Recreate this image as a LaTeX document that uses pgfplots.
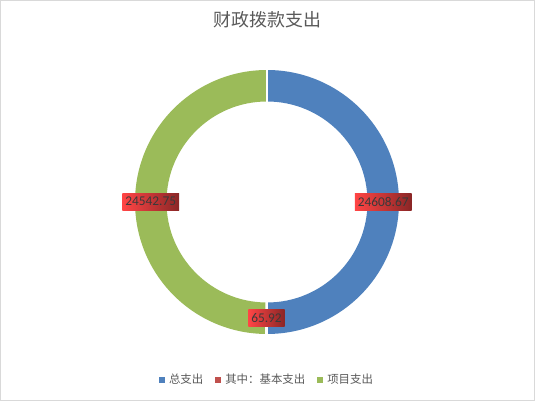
\documentclass[border=0pt]{standalone}
\usepackage{pgfplots}
\pgfplotsset{compat=1.18}
\usepackage{pgfplotstable}
\usepackage{fontspec}
\setmainfont{Carlito}
\newfontfamily\cjk{Noto Sans CJK SC}
\definecolor{cblue}{HTML}{4F81BD}
\definecolor{cred}{HTML}{C0504D}
\definecolor{cgreen}{HTML}{9BBB59}
\definecolor{ctext}{HTML}{595959}
\definecolor{labtext}{HTML}{3A3A3A}
\definecolor{labL}{HTML}{FF4545}
\definecolor{labR}{HTML}{8A2626}
\definecolor{cborder}{HTML}{D9D9D9}
\pgfplotstableread{
idx value
0 24608.67
1 65.92
2 24542.75
}\donutdata
\begin{document}
\pgfplotstablegetelem{0}{value}\of\donutdata \edef\va{\pgfplotsretval}%
\pgfplotstablegetelem{1}{value}\of\donutdata \edef\vb{\pgfplotsretval}%
\pgfplotstablegetelem{2}{value}\of\donutdata \edef\vc{\pgfplotsretval}%
\edef\tot{\fpeval{\va+\vb+\vc}}%
\edef\aA{\fpeval{90-360*\va/\tot}}%
\edef\aB{\fpeval{\aA-360*\vb/\tot}}%
\edef\aC{-270}%
\edef\mA{\fpeval{(90+\aA)/2}}%
\edef\mB{\fpeval{(\aA+\aB)/2}}%
\edef\mC{\fpeval{(\aB+\aC)/2}}%
\def\Ro{2.64cm}\def\Ri{2.01cm}\def\Rm{2.325cm}%
\begin{tikzpicture}
\begin{axis}[
  scale only axis, width=10.7cm, height=8.02cm,
  xmin=0, xmax=535, ymin=0, ymax=401,
  hide axis, clip=false,
  legend style={at={(0.5,0.0524)}, anchor=center, draw=none, fill=none,
    legend columns=-1, inner sep=0pt,
    font=\cjk\fontsize{6.5}{8}\selectfont\color{ctext},
    /tikz/every even column/.append style={column sep=0.16cm},
    /tikz/every odd column/.append style={column sep=0.02cm}},
  legend image code/.code={\fill[#1] (0cm,-0.06cm) rectangle (0.12cm,0.06cm);},
]
\path (axis cs:0,0) rectangle (axis cs:535,401);
\draw[cborder, line width=0.02cm] (axis cs:0.5,0.5) rectangle (axis cs:534.5,400.5);
\node[text=ctext, font=\cjk\fontsize{10.2}{12}\selectfont] at (axis cs:267.5,381) {财政拨款支出};
\coordinate (C) at (axis cs:267,199);
\addlegendimage{fill=cblue, draw=none}
\addlegendentry{总支出}
\addlegendimage{fill=cred, draw=none}
\addlegendentry{其中：基本支出}
\addlegendimage{fill=cgreen, draw=none}
\addlegendentry{项目支出}
\end{axis}
\begin{scope}[shift={(C)}]
\fill[cblue] (90:\Ro) arc[start angle=90, end angle=\aA, radius=\Ro] -- (\aA:\Ri) arc[start angle=\aA, end angle=90, radius=\Ri] -- cycle;
\fill[cred] (\aA:\Ro) arc[start angle=\aA, end angle=\aB, radius=\Ro] -- (\aB:\Ri) arc[start angle=\aB, end angle=\aA, radius=\Ri] -- cycle;
\fill[cgreen] (\aB:\Ro) arc[start angle=\aB, end angle=\aC, radius=\Ro] -- (\aC:\Ri) arc[start angle=\aC, end angle=\aB, radius=\Ri] -- cycle;
\draw[white, line width=0.03cm] (90:1.99cm) -- (90:2.66cm);
\draw[white, line width=0.03cm] (\aA:1.99cm) -- (\aA:2.66cm);
\draw[white, line width=0.03cm] (\aB:1.99cm) -- (\aB:2.66cm);
\foreach \ang/\val in {\mA/\va, \mB/\vb, \mC/\vc}{
  \node[left color=labL, right color=labR, text=labtext, font=\fontsize{7.6}{9}\selectfont,
        inner xsep=0.06cm, inner ysep=0pt, minimum height=0.34cm] at (\ang:\Rm) {\val};
}
\end{scope}
\end{tikzpicture}
\end{document}
